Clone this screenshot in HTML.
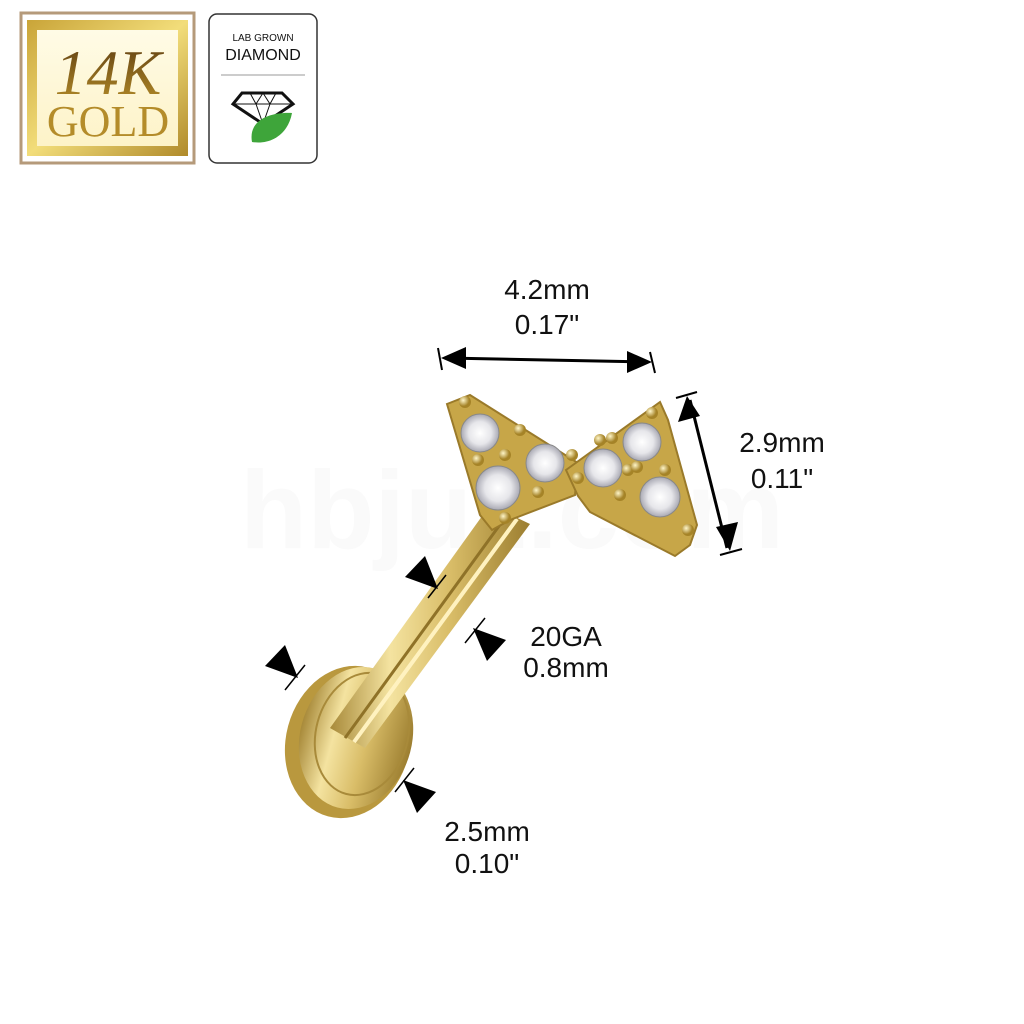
<!DOCTYPE html>
<html><head><meta charset="utf-8"><style>
html,body{margin:0;padding:0;background:#fff;}
svg{display:block}
text{font-family:"Liberation Sans","DejaVu Sans",sans-serif;fill:#111}
</style></head><body>
<svg width="1024" height="1024" viewBox="0 0 1024 1024" xmlns="http://www.w3.org/2000/svg">
<defs>
<linearGradient id="gb" x1="0" y1="0" x2="1" y2="1">
<stop offset="0" stop-color="#c9a438"/><stop offset="0.5" stop-color="#f2dd7a"/><stop offset="1" stop-color="#b08a2a"/>
</linearGradient>
<linearGradient id="gin" x1="0" y1="0" x2="0" y2="1">
<stop offset="0" stop-color="#fffbe6"/><stop offset="1" stop-color="#fdf3c8"/>
</linearGradient>
<linearGradient id="gt" x1="0" y1="0" x2="0" y2="1">
<stop offset="0" stop-color="#5a3a10"/><stop offset="1" stop-color="#b8902a"/>
</linearGradient>
<linearGradient id="metal" x1="0" y1="0" x2="1" y2="0">
<stop offset="0" stop-color="#a88a3a"/><stop offset="0.3" stop-color="#f4e3a0"/><stop offset="0.6" stop-color="#d9bd68"/><stop offset="1" stop-color="#9c7e30"/>
</linearGradient>
<radialGradient id="stone"><stop offset="0" stop-color="#fff"/><stop offset="0.6" stop-color="#e6e6ea"/><stop offset="1" stop-color="#a9a9b3"/></radialGradient>
<radialGradient id="prong" cx="0.35" cy="0.35"><stop offset="0" stop-color="#fff6c8"/><stop offset="1" stop-color="#a58327"/></radialGradient>
</defs>

<!-- 14K badge -->
<rect x="21" y="13" width="173" height="150" fill="#fff" stroke="#b59a7a" stroke-width="3"/>
<rect x="27" y="20" width="161" height="136" fill="url(#gb)"/>
<rect x="37" y="30" width="141" height="116" fill="url(#gin)"/>
<text x="108" y="94" text-anchor="middle" font-size="64" font-style="italic" style="font-family:'Liberation Serif',serif;fill:url(#gt)">14K</text>
<text x="108" y="136" text-anchor="middle" style="font-family:'Liberation Serif',serif;fill:#b48c2a" font-size="44">GOLD</text>

<!-- Diamond badge -->
<rect x="209" y="14" width="108" height="149" rx="8" fill="#fff" stroke="#333" stroke-width="1.5"/>
<text x="263" y="41" text-anchor="middle" font-size="10">LAB GROWN</text>
<text x="263" y="60" text-anchor="middle" font-size="16">DIAMOND</text>
<line x1="221" y1="75" x2="305" y2="75" stroke="#999" stroke-width="1"/>
<path d="M242 93 L282 93 L293 104 L263 124 L233 104 Z" fill="none" stroke="#111" stroke-width="3"/>
<path d="M233 104 L293 104 M250 93 L256 104 L263 93 L270 104 L276 93 M256 104 L263 124 L270 104" fill="none" stroke="#111" stroke-width="1"/>
<path d="M252 142 C248 120 270 112 292 113 C288 135 270 145 252 142 Z" fill="#3ea53a"/>

<!-- watermark -->
<text x="512" y="548" text-anchor="middle" font-size="110" font-weight="bold" style="fill:#fafafa">hbjuz.com</text>

<!-- disc -->
<ellipse cx="348" cy="742" rx="62" ry="77" transform="rotate(15 348 742)" fill="#b9983e"/>
<ellipse cx="356" cy="738" rx="56" ry="72" transform="rotate(15 356 738)" fill="url(#metal)"/>
<ellipse cx="362" cy="734" rx="46" ry="62" transform="rotate(15 362 734)" fill="none" stroke="#a88a3a" stroke-width="2"/>
<!-- shaft -->
<polygon points="490,505 530,524 365,748 330,728" fill="url(#metal)"/>
<line x1="507" y1="515" x2="345" y2="738" stroke="#8f7228" stroke-width="3"/>
<line x1="517" y1="519" x2="354" y2="742" stroke="#fff2c0" stroke-width="4"/>

<!-- bow -->
<polygon points="447,404 470,395 578,463 575,495 510,520 492,530 480,515" fill="#c7a648" stroke="#9a7a2a" stroke-width="2"/>
<polygon points="566,470 660,402 668,420 697,525 690,545 675,556 590,512 578,496" fill="#c7a648" stroke="#9a7a2a" stroke-width="2"/>
<g fill="url(#stone)" stroke="#888" stroke-width="1">
<circle cx="480" cy="433" r="19"/><circle cx="498" cy="488" r="22"/><circle cx="545" cy="463" r="19"/>
<circle cx="603" cy="468" r="19"/><circle cx="642" cy="442" r="19"/><circle cx="660" cy="497" r="20"/>
</g>
<g fill="url(#prong)">
<circle cx="465" cy="402" r="6"/><circle cx="520" cy="430" r="6"/><circle cx="478" cy="460" r="6"/><circle cx="505" cy="455" r="6"/>
<circle cx="572" cy="455" r="6"/><circle cx="578" cy="478" r="6"/><circle cx="538" cy="492" r="6"/><circle cx="505" cy="518" r="6"/>
<circle cx="600" cy="440" r="6"/><circle cx="612" cy="438" r="6"/><circle cx="652" cy="413" r="6"/><circle cx="628" cy="470" r="6"/>
<circle cx="637" cy="467" r="6"/><circle cx="665" cy="470" r="6"/><circle cx="620" cy="495" r="6"/><circle cx="688" cy="530" r="6"/>
</g>

<!-- width arrow -->
<g stroke="#000" stroke-width="3" fill="#000">
<line x1="446" y1="358" x2="648" y2="362"/>
<line x1="438" y1="348" x2="442" y2="370" stroke-width="2"/>
<line x1="650" y1="352" x2="655" y2="373" stroke-width="2"/>
<polygon points="441,358 466,347 466,369" stroke="none"/>
<polygon points="652,362 627,351 627,373" stroke="none"/>
<!-- height arrow -->
<line x1="690" y1="400" x2="727" y2="548"/>
<line x1="676" y1="398" x2="697" y2="392" stroke-width="2"/>
<line x1="720" y1="555" x2="742" y2="549" stroke-width="2"/>
<polygon points="687,396 678,422 700,416" stroke="none"/>
<polygon points="730,551 716,527 738,522" stroke="none"/>
</g>
<!-- gauge arrows -->
<g fill="#000">
<polygon points="438,589 405,577 425,556"/>
<polygon points="473,628 506,640 487,661"/>
<polygon points="298,678 265,666 285,645"/>
<polygon points="403,780 436,792 417,813"/>
</g>
<g stroke="#000" stroke-width="1.5">
<line x1="428" y1="598" x2="446" y2="575"/><line x1="465" y1="643" x2="485" y2="618"/>
<line x1="285" y1="690" x2="305" y2="665"/><line x1="395" y1="792" x2="414" y2="768"/>
</g>

<!-- labels -->
<g font-size="28" text-anchor="middle">
<text x="547" y="299">4.2mm</text><text x="547" y="334">0.17"</text>
<text x="782" y="452">2.9mm</text><text x="782" y="488">0.11"</text>
<text x="566" y="646">20GA</text><text x="566" y="677">0.8mm</text>
<text x="487" y="841">2.5mm</text><text x="487" y="873">0.10"</text>
</g>
</svg>
</body></html>
